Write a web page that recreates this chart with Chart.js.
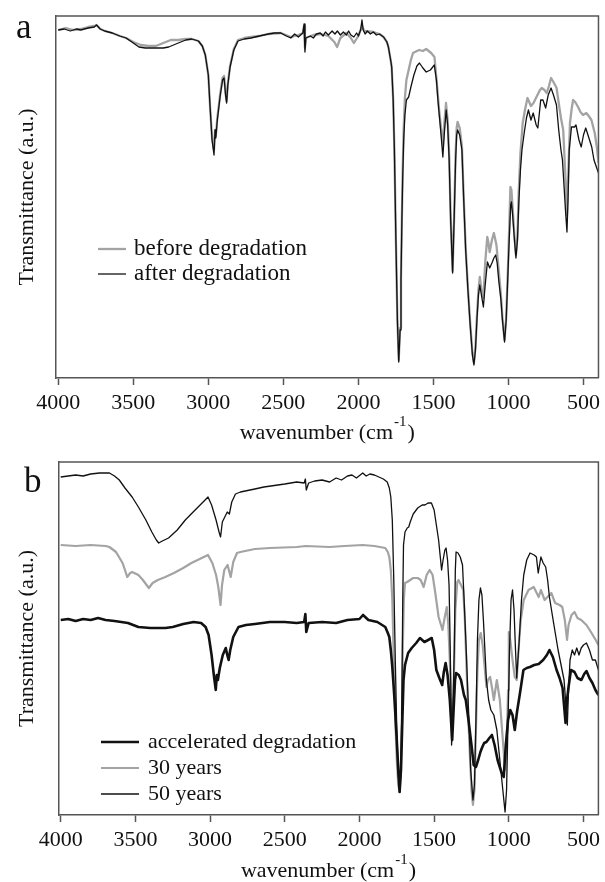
<!DOCTYPE html>
<html>
<head>
<meta charset="utf-8">
<script src="https://cdn.jsdelivr.net/npm/chart.js@4.4.1/dist/chart.umd.min.js"></script>
<style>
  body { margin: 0; background: #fff; }
  #wrap { position: relative; width: 605px; height: 882px; }
  canvas { position: absolute; left: 0; }
  #chartA { top: 0; }
  #chartB { top: 447px; }
</style>
</head>
<body>
<div id="wrap">
  <canvas id="chartA" width="605" height="447"></canvas>
  <canvas id="chartB" width="605" height="435"></canvas>
</div>
<script>
// x axis tick labels (wavenumber, cm-1)
const xTicks = [4000, 3500, 3000, 2500, 2000, 1500, 1000, 500];

// Panel a - [wavenumber, transmittance (a.u.)]
const aBefore = [[4000,348],[3950,350],[3900,348],[3850,349],[3800,351],[3760,352],[3745,353],[3720,349],[3690,347],[3640,345],[3590,342],[3548,340],[3500,336],[3450,333],[3400,332],[3350,332],[3300,335],[3250,338],[3200,338],[3150,339],[3110,339],[3066,337],[3040,332],[3020,323],[3000,303],[2987,268],[2975,240],[2962,228],[2955,248],[2950,242],[2940,260],[2920,285],[2905,300],[2895,302],[2885,285],[2878,277],[2870,294],[2855,312],[2830,329],[2802,338],[2760,340],[2716,341],[2660,342],[2600,344],[2517,345],[2450,341],[2400,343],[2370,345],[2362,352],[2356,330],[2350,340],[2300,343],[2250,344],[2200,342],[2160,336],[2142,331],[2120,340],[2080,345],[2050,340],[2030,335],[2000,342],[1976,352],[1960,347],[1900,346],[1860,344],[1832,341],[1810,336],[1800,331],[1785,318],[1778,311],[1768,278],[1760,228],[1750,138],[1740,58],[1731,18],[1722,50],[1716,100],[1710,160],[1705,205],[1698,250],[1690,280],[1680,298],[1665,308],[1650,318],[1636,325],[1610,327],[1594,328],[1570,327],[1548,329],[1515,325],[1493,321],[1477,295],[1462,268],[1449,250],[1437,233],[1428,253],[1416,275],[1405,258],[1395,223],[1385,160],[1372,107],[1362,160],[1352,225],[1345,250],[1339,256],[1325,250],[1310,232],[1298,180],[1285,130],[1270,90],[1255,55],[1240,25],[1230,15],[1220,30],[1210,62],[1200,88],[1191,101],[1180,88],[1167,80],[1155,115],[1141,141],[1133,135],[1125,126],[1110,138],[1097,145],[1080,133],[1065,108],[1050,83],[1040,60],[1026,38],[1015,60],[1005,102],[995,150],[987,191],[980,188],[972,170],[960,142],[950,123],[940,142],[932,185],[920,225],[905,255],[890,268],[873,280],[850,272],[833,275],[810,282],[790,288],[778,290],[760,288],[745,285],[730,292],[716,300],[700,296],[679,290],[665,275],[650,260],[635,248],[620,200],[610,163],[600,210],[590,255],[578,270],[569,278],[555,276],[536,271],[520,266],[503,263],[481,265],[465,262],[447,258],[425,245],[410,230],[400,215]];

const aAfter = [[4000,348],[3960,349],[3920,347],[3880,349],[3850,348],[3800,350],[3760,351],[3745,353],[3720,349],[3690,347],[3640,345],[3590,342],[3548,340],[3500,335],[3462,331],[3420,330],[3350,330],[3300,330],[3264,331],[3200,335],[3150,338],[3110,339],[3066,337],[3040,332],[3020,323],[3000,303],[2987,268],[2975,238],[2962,223],[2955,248],[2950,240],[2940,258],[2920,283],[2905,298],[2895,300],[2885,283],[2878,275],[2870,293],[2855,311],[2830,328],[2802,337],[2760,339],[2716,340],[2660,342],[2600,344],[2560,345],[2517,345],[2480,342],[2450,340],[2425,344],[2400,341],[2370,345],[2362,354],[2356,326],[2350,340],[2320,342],[2300,340],[2280,344],[2254,345],[2235,342],[2220,346],[2200,343],[2175,347],[2156,344],[2140,347],[2120,343],[2100,346],[2080,343],[2065,347],[2050,343],[2030,341],[2012,345],[2000,342],[1985,348],[1976,358],[1968,348],[1955,344],[1940,347],[1920,344],[1900,346],[1880,343],[1860,344],[1832,341],[1810,336],[1800,331],[1785,318],[1778,311],[1768,278],[1760,228],[1750,138],[1740,58],[1731,16],[1722,48],[1716,98],[1710,158],[1705,198],[1698,238],[1690,263],[1680,278],[1665,281],[1650,291],[1630,303],[1610,312],[1593,315],[1570,310],[1548,306],[1520,308],[1494,313],[1480,298],[1470,278],[1458,258],[1449,243],[1437,221],[1428,243],[1415,268],[1405,253],[1395,218],[1385,158],[1372,105],[1362,158],[1352,218],[1345,243],[1339,248],[1325,243],[1310,228],[1298,178],[1285,128],[1270,88],[1255,53],[1240,23],[1230,13],[1220,28],[1210,58],[1200,83],[1191,93],[1180,83],[1167,71],[1155,93],[1140,116],[1125,110],[1110,115],[1097,120],[1085,123],[1075,115],[1065,98],[1050,78],[1040,58],[1026,36],[1015,58],[1005,98],[995,138],[985,173],[980,176],[972,163],[960,138],[950,120],[940,138],[930,178],[920,208],[910,228],[895,245],[880,260],[867,268],[850,258],[835,265],[815,253],[804,250],[785,278],[770,278],[752,270],[735,283],[716,290],[700,283],[680,273],[665,248],[650,228],[640,218],[630,193],[620,168],[610,146],[603,178],[595,228],[580,251],[560,251],[550,253],[530,238],[515,231],[500,243],[485,250],[470,243],[445,231],[430,218],[400,205]];

// Panel b - [wavenumber, transmittance (a.u.)]
const bAccel = [[4000,195],[3950,196],[3900,194],[3850,196],[3800,195],[3750,197],[3700,195],[3640,194],[3550,192],[3480,188],[3400,187],[3300,187],[3250,188],[3180,191],[3110,193],[3060,192],[3030,188],[3010,180],[2990,160],[2975,140],[2962,125],[2955,140],[2948,135],[2935,147],[2915,160],[2895,167],[2885,160],[2876,155],[2865,165],[2845,178],[2810,188],[2760,190],[2700,191],[2600,193],[2500,193],[2420,192],[2370,193],[2362,201],[2356,183],[2340,192],[2250,193],[2156,192],[2080,195],[2000,196],[1976,200],[1940,195],[1880,193],[1827,188],[1810,182],[1800,178],[1790,165],[1780,148],[1765,115],[1750,75],[1740,45],[1731,23],[1722,45],[1715,82],[1705,135],[1695,150],[1674,162],[1650,167],[1620,172],[1595,177],[1565,173],[1540,175],[1516,177],[1500,165],[1485,145],[1465,137],[1446,130],[1435,143],[1423,152],[1410,140],[1395,115],[1379,75],[1368,110],[1360,135],[1353,142],[1335,140],[1320,135],[1300,120],[1288,115],[1270,95],[1250,70],[1235,50],[1220,48],[1205,55],[1190,63],[1180,67],[1165,72],[1150,73],[1130,77],[1113,80],[1095,70],[1075,55],[1050,43],[1034,38],[1020,70],[1005,95],[990,105],[975,100],[960,85],[945,103],[925,122],[902,145],[880,147],[858,148],[830,150],[800,151],[770,155],[745,160],[728,165],[705,158],[680,145],[660,137],[640,127],[620,92],[610,115],[600,128],[584,145],[560,143],[540,137],[514,135],[495,141],[480,144],[460,137],[440,132],[420,125],[400,120]];

const b30y = [[4000,270],[3900,269],[3800,270],[3700,269],[3674,268],[3630,263],[3586,252],[3570,245],[3555,238],[3535,242],[3522,243],[3480,240],[3450,235],[3410,227],[3385,232],[3350,235],[3300,238],[3242,242],[3180,247],[3125,252],[3070,256],[3014,260],[2985,252],[2960,240],[2945,228],[2930,210],[2920,230],[2905,245],[2883,250],[2862,238],[2845,253],[2820,262],[2797,263],[2700,266],[2600,267],[2420,268],[2360,269],[2200,268],[2100,269],[1978,270],[1900,269],[1827,267],[1810,263],[1800,258],[1790,245],[1780,215],[1770,155],[1760,95],[1750,55],[1740,30],[1731,23],[1722,45],[1716,95],[1710,165],[1703,215],[1695,232],[1680,233],[1660,235],[1640,237],[1610,237],[1590,235],[1570,228],[1550,240],[1530,245],[1510,240],[1495,225],[1470,198],[1444,185],[1430,197],[1415,208],[1405,190],[1395,155],[1385,105],[1378,90],[1368,135],[1358,205],[1345,233],[1337,235],[1320,230],[1305,225],[1295,198],[1280,135],[1265,75],[1250,25],[1240,10],[1230,25],[1220,85],[1210,145],[1200,175],[1188,182],[1175,170],[1160,145],[1150,128],[1140,135],[1125,138],[1110,125],[1100,115],[1080,135],[1060,115],[1040,75],[1025,45],[1015,65],[1005,125],[1000,183],[990,175],[975,155],[960,138],[947,135],[935,165],[920,195],[900,215],[868,225],[833,228],[800,218],[785,225],[760,215],[715,222],[690,212],[660,210],[642,208],[625,195],[610,175],[600,190],[580,200],[560,203],[540,197],[515,195],[480,190],[450,183],[418,175],[400,170]];

const b50y = [[4000,338],[3950,339],[3900,340],[3850,339],[3800,341],[3740,342],[3674,342],[3640,339],[3608,335],[3570,327],[3522,318],[3480,308],[3430,295],[3390,283],[3360,275],[3344,272],[3320,274],[3278,277],[3220,285],[3166,295],[3120,302],[3080,308],[3040,314],[3014,318],[2990,310],[2960,295],[2940,283],[2930,278],[2918,293],[2905,297],[2885,303],[2871,301],[2855,313],[2830,321],[2797,323],[2700,326],[2640,328],[2500,331],[2420,333],[2370,332],[2362,336],[2356,325],[2340,332],[2300,334],[2250,335],[2200,333],[2156,337],[2120,335],[2080,339],[2050,340],[2020,337],[1978,342],[1955,339],[1930,341],[1900,340],[1870,338],[1840,336],[1814,333],[1800,327],[1790,318],[1780,295],[1770,235],[1760,155],[1750,85],[1740,40],[1731,25],[1722,45],[1716,115],[1710,215],[1705,270],[1695,283],[1680,287],[1670,288],[1660,293],[1640,301],[1610,307],[1580,310],[1562,310],[1540,312],[1518,312],[1500,305],[1485,290],[1470,275],[1460,260],[1450,245],[1440,255],[1428,265],[1420,267],[1410,255],[1400,230],[1392,165],[1383,70],[1375,100],[1365,165],[1358,245],[1353,263],[1340,262],[1325,258],[1310,250],[1300,218],[1285,165],[1270,105],[1255,45],[1240,15],[1230,30],[1220,95],[1210,175],[1200,215],[1190,227],[1180,220],[1170,195],[1160,165],[1150,135],[1135,115],[1120,105],[1100,100],[1080,85],[1060,55],[1040,25],[1025,3],[1015,25],[1005,95],[995,165],[985,215],[975,225],[965,205],[955,165],[947,137],[930,175],[915,215],[900,240],[880,255],[858,262],[830,260],[815,258],[803,242],[785,258],[770,252],[753,248],[740,235],[728,218],[700,192],[670,165],[650,150],[630,135],[615,105],[608,90],[600,125],[590,155],[575,165],[560,160],[545,167],[530,160],[515,167],[500,170],[480,172],[460,165],[440,155],[420,155],[400,145]];

const FONT = '"Liberation Serif", "Times New Roman", serif';
const FRAME = '#555';
const GRAY = '#a3a3a3';
const BLACK = '#111';

const toXY = arr => arr.map(p => ({x: p[0], y: p[1]}));

// frame (top/right), panel letter, x title with superscript and legend
const panelDecor = {
    id: 'panelDecor',
    afterDraw(chart, args, opts) {
        const ctx = chart.ctx;
        const ca = chart.chartArea;
        ctx.save();
        ctx.strokeStyle = FRAME;
        ctx.lineWidth = 1.5;
        ctx.beginPath();
        ctx.moveTo(ca.left, ca.top);
        ctx.lineTo(ca.right, ca.top);
        ctx.lineTo(ca.right, ca.bottom);
        ctx.stroke();

        ctx.fillStyle = BLACK;
        ctx.textBaseline = 'alphabetic';
        ctx.textAlign = 'left';
        ctx.font = '35px ' + FONT;
        ctx.fillText(opts.letter, opts.letterX, opts.letterY);

        // x axis title: wavenumber (cm^-1)
        ctx.font = '22px ' + FONT;
        ctx.textBaseline = 'middle';
        const t1 = 'wavenumber (cm', sup = '-1', t2 = ')';
        const supFont = '15px ' + FONT;
        const w1 = ctx.measureText(t1).width;
        const w2 = ctx.measureText(t2).width;
        ctx.font = supFont;
        const ws = ctx.measureText(sup).width;
        let x = (ca.left + ca.right) / 2 - (w1 + ws + w2 + 2) / 2;
        ctx.font = '22px ' + FONT;
        ctx.fillText(t1, x, opts.titleY);
        ctx.font = supFont;
        ctx.fillText(sup, x + w1 + 1, opts.titleY - 11);
        ctx.font = '22px ' + FONT;
        ctx.fillText(t2, x + w1 + ws + 2, opts.titleY);

        // legend
        ctx.font = opts.legendFont + 'px ' + FONT;
        opts.legendOrder.forEach((di, i) => {
            const ds = chart.data.datasets[di];
            const y = opts.legendY + i * opts.legendRow;
            ctx.strokeStyle = ds.borderColor;
            ctx.lineWidth = ds.borderWidth;
            ctx.beginPath();
            ctx.moveTo(opts.legendX, y);
            ctx.lineTo(opts.legendX + opts.legendLen, y);
            ctx.stroke();
            ctx.fillStyle = BLACK;
            ctx.fillText(ds.label, opts.legendX + opts.legendLen + opts.legendGap, y);
        });
        ctx.restore();
    }
};

function makeChart(canvasId, datasets, box, deco) {
    const canvas = document.getElementById(canvasId);
    return new Chart(canvas, {
        type: 'line',
        data: { datasets: datasets },
        options: {
            responsive: false,
            animation: false,
            layout: { padding: { left: 0, top: box.top, right: canvas.width - box.right, bottom: 0 } },
            elements: { point: { radius: 0 }, line: { tension: 0, borderJoinStyle: 'round' } },
            plugins: { legend: { display: false }, tooltip: { enabled: false }, panelDecor: deco },
            scales: {
                x: {
                    type: 'linear',
                    reverse: true,
                    min: 400,
                    max: 4015,
                    afterBuildTicks: scale => { scale.ticks = xTicks.map(v => ({ value: v })); },
                    afterFit: scale => { scale.height = canvas.height - box.bottom; },
                    grid: { drawOnChartArea: false, drawTicks: true, tickLength: 7, tickWidth: 1.5, color: FRAME },
                    border: { display: true, color: FRAME, width: 1.5 },
                    ticks: { autoSkip: false, maxRotation: 0, padding: 5, color: BLACK, font: { family: FONT, size: 22 },
                             callback: v => String(v) }
                },
                y: {
                    min: 0,
                    max: box.ymax,
                    afterFit: scale => { scale.width = box.left; },
                    grid: { display: false },
                    border: { display: true, color: FRAME, width: 1.5 },
                    ticks: { display: false },
                    title: { display: true, text: 'Transmittance (a.u.)', color: BLACK, padding: { top: 14, bottom: 0 }, font: { family: FONT, size: 22 } }
                }
            }
        },
        plugins: [panelDecor]
    });
}

makeChart('chartA', [
    { label: 'before degradation', data: toXY(aBefore), borderColor: GRAY, borderWidth: 2.3, order: 2 },
    { label: 'after degradation', data: toXY(aAfter), borderColor: BLACK, borderWidth: 1.3, order: 1 }
], { left: 56, top: 16, right: 604, bottom: 378, ymax: 362 },
{ letter: 'a', letterX: 16, letterY: 38, titleY: 433, legendOrder: [0, 1], legendFont: 23, legendX: 98, legendLen: 28, legendGap: 8, legendY: 249, legendRow: 25 });

makeChart('chartB', [
    { label: 'accelerated degradation', data: toXY(bAccel), borderColor: BLACK, borderWidth: 2.6, order: 2 },
    { label: '30 years', data: toXY(b30y), borderColor: GRAY, borderWidth: 2.2, order: 3 },
    { label: '50 years', data: toXY(b50y), borderColor: BLACK, borderWidth: 1.3, order: 1 }
], { left: 58.5, top: 15, right: 604, bottom: 368, ymax: 353 },
{ letter: 'b', letterX: 24, letterY: 45, titleY: 424, legendOrder: [0, 1, 2], legendFont: 22, legendX: 101, legendLen: 38, legendGap: 9, legendY: 295, legendRow: 26 });
</script>
</body>
</html>
